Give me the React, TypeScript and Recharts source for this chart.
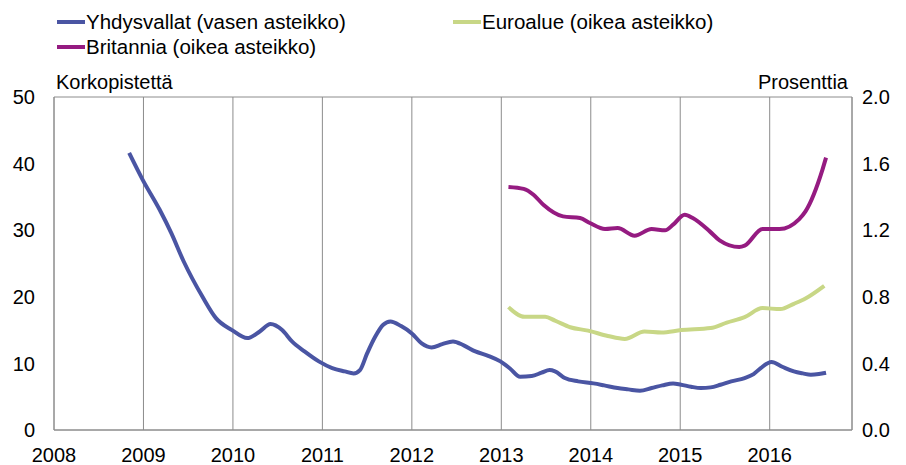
import React from "react";
import { LineChart, Line, XAxis, YAxis, CartesianGrid } from "recharts";

const yearTicks = [2008, 2009, 2010, 2011, 2012, 2013, 2014, 2015, 2016];
const leftTicks = [0, 10, 20, 30, 40, 50];
const rightTicks = [0, 0.4, 0.8, 1.2, 1.6, 2.0];

const usYears = [2008.84, 2008.99, 2009.18, 2009.31, 2009.45, 2009.66, 2009.81, 2009.99, 2010.16, 2010.30, 2010.42, 2010.55, 2010.66, 2010.80, 2010.96, 2011.11, 2011.25, 2011.35, 2011.42, 2011.50, 2011.59, 2011.68, 2011.76, 2011.88, 2012.0, 2012.11, 2012.22, 2012.34, 2012.46, 2012.58, 2012.71, 2012.86, 2012.99, 2013.10, 2013.21, 2013.34, 2013.45, 2013.54, 2013.60, 2013.71, 2013.86, 2014.03, 2014.15, 2014.30, 2014.42, 2014.55, 2014.68, 2014.80, 2014.92, 2015.01, 2015.12, 2015.23, 2015.34, 2015.45, 2015.57, 2015.72, 2015.82, 2015.90, 2016.02, 2016.14, 2016.27, 2016.37, 2016.46, 2016.55, 2016.63];
const usValues = [41.6, 37.6, 33.1, 29.6, 25.3, 20.0, 16.8, 15.0, 13.8, 14.8, 15.9, 15.0, 13.3, 11.8, 10.3, 9.3, 8.8, 8.5, 9.0, 11.5, 14.0, 15.8, 16.3, 15.6, 14.5, 13.0, 12.4, 12.9, 13.3, 12.7, 11.8, 11.1, 10.3, 9.2, 8.0, 8.1, 8.6, 9.0, 8.8, 7.8, 7.3, 7.0, 6.7, 6.3, 6.1, 5.9, 6.3, 6.7, 7.0, 6.8, 6.5, 6.3, 6.4, 6.8, 7.3, 7.8, 8.4, 9.3, 10.2, 9.5, 8.8, 8.5, 8.3, 8.4, 8.6];

const euroYears = [2013.08, 2013.26, 2013.49, 2013.60, 2013.77, 2013.97, 2014.19, 2014.38, 2014.60, 2014.79, 2015.01, 2015.34, 2015.52, 2015.72, 2015.92, 2016.12, 2016.27, 2016.40, 2016.61];
const euroValues = [0.738, 0.68, 0.68, 0.657, 0.617, 0.597, 0.565, 0.547, 0.591, 0.585, 0.60, 0.612, 0.645, 0.678, 0.732, 0.726, 0.758, 0.79, 0.866];

const ukYears = [2013.08, 2013.25, 2013.36, 2013.47, 2013.69, 2013.88, 2013.99, 2014.16, 2014.30, 2014.49, 2014.68, 2014.83, 2014.92, 2015.05, 2015.14, 2015.33, 2015.44, 2015.66, 2015.72, 2015.92, 2016.11, 2016.33, 2016.40, 2016.59, 2016.63];
const ukValues = [1.46, 1.448, 1.413, 1.353, 1.283, 1.273, 1.243, 1.207, 1.213, 1.167, 1.207, 1.199, 1.233, 1.293, 1.273, 1.193, 1.139, 1.099, 1.107, 1.207, 1.207, 1.267, 1.313, 1.564, 1.636];

const usData = usYears.map((t, i) => ({ t, v: usValues[i] }));
const euroData = euroYears.map((t, i) => ({ t, v: euroValues[i] }));
const ukData = ukYears.map((t, i) => ({ t, v: ukValues[i] }));

const BLUE = "#4A55A3";
const PURPLE = "#951B81";
const GREEN = "#C8D786";
const GRID = "#8c8c8c";
const FONT = "'Liberation Sans', Arial, sans-serif";

const legendItems = [
  { label: "Yhdysvallat (vasen asteikko)", color: BLUE, x: 57, y: 22 },
  { label: "Euroalue (oikea asteikko)", color: GREEN, x: 453, y: 22 },
  { label: "Britannia (oikea asteikko)", color: PURPLE, x: 57, y: 47 },
];

export default function App() {
  return (
    <div style={{ position: "absolute", left: 0, top: 0, width: 906, height: 465, background: "#fff" }}>
      <LineChart width={906} height={465} margin={{ top: 97, right: 0, bottom: 0, left: 0 }}>
        <CartesianGrid stroke={GRID} strokeWidth={1} />
        <XAxis
          dataKey="t"
          type="number"
          domain={[2008, 2016.92]}
          ticks={yearTicks}
          allowDataOverflow
          height={35}
          tickSize={0}
          tickMargin={18}
          axisLine={{ stroke: GRID }}
          tickLine={false}
          tick={{ fill: "#000", fontSize: 20, fontFamily: FONT }}
        />
        <YAxis
          yAxisId="left"
          orientation="left"
          domain={[0, 50]}
          ticks={leftTicks}
          width={54}
          tickSize={0}
          tickMargin={19}
          axisLine={{ stroke: GRID }}
          tickLine={false}
          tick={{ fill: "#000", fontSize: 20, fontFamily: FONT }}
          label={{
            content: () => (
              <text x={56} y={89} fontSize={20} fontFamily={FONT} fill="#000">Korkopistettä</text>
            ),
          }}
        />
        <YAxis
          yAxisId="right"
          orientation="right"
          domain={[0, 2]}
          ticks={rightTicks}
          width={54}
          tickSize={0}
          tickMargin={10}
          axisLine={{ stroke: GRID }}
          tickLine={false}
          tickFormatter={(v: number) => v.toFixed(1)}
          tick={{ fill: "#000", fontSize: 20, fontFamily: FONT }}
          label={{
            content: () => (
              <text x={848} y={89} fontSize={20} fontFamily={FONT} fill="#000" textAnchor="end">Prosenttia</text>
            ),
          }}
        />
        <Line yAxisId="left" data={usData} dataKey="v" type="monotone" stroke={BLUE} strokeWidth={4} dot={false} isAnimationActive={false} />
        <Line yAxisId="right" data={euroData} dataKey="v" type="monotone" stroke={GREEN} strokeWidth={4} dot={false} isAnimationActive={false} />
        <Line yAxisId="right" data={ukData} dataKey="v" type="monotone" stroke={PURPLE} strokeWidth={4} dot={false} isAnimationActive={false} />
      </LineChart>
      {legendItems.map((it) => (
        <div key={it.label} style={{ position: "absolute", left: it.x, top: it.y - 12, height: 24, display: "flex", alignItems: "center", whiteSpace: "nowrap" }}>
          <div style={{ width: 28, height: 4, background: it.color }} />
          <span style={{ fontFamily: FONT, fontSize: 20.5, color: "#000", marginLeft: 1, lineHeight: "24px" }}>{it.label}</span>
        </div>
      ))}
    </div>
  );
}
